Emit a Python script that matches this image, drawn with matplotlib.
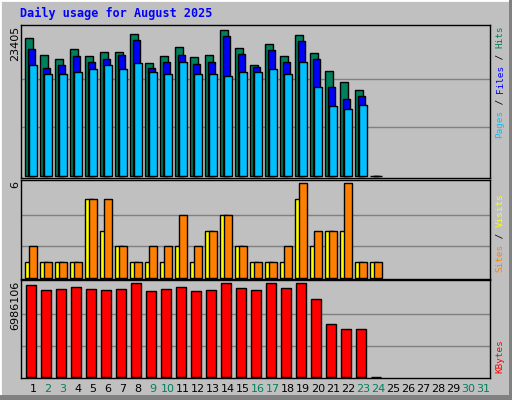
import matplotlib
matplotlib.use("Agg")
import matplotlib.pyplot as plt
import numpy as np

# values
days = list(range(1, 32))
hits_max = 23405
hits = [0.94, 0.83, 0.80, 0.87, 0.82, 0.85, 0.85, 0.97, 0.77, 0.82, 0.885, 0.815,
        0.83, 1.0, 0.875, 0.756, 0.90, 0.82, 0.967, 0.84, 0.72, 0.64, 0.59, 0.0]
files = [0.87, 0.74, 0.76, 0.82, 0.78, 0.80, 0.83, 0.93, 0.74, 0.78, 0.83, 0.765,
         0.78, 0.96, 0.835, 0.745, 0.86, 0.78, 0.92, 0.80, 0.61, 0.53, 0.55, 0.0]
pages = [0.76, 0.70, 0.695, 0.71, 0.73, 0.76, 0.73, 0.77, 0.71, 0.70, 0.78, 0.695,
         0.70, 0.686, 0.71, 0.71, 0.73, 0.695, 0.777, 0.61, 0.48, 0.46, 0.485, 0.0]
hits = [round(v * hits_max) for v in hits]
files = [round(v * hits_max) for v in files]
pages = [round(v * hits_max) for v in pages]

visits = [1, 1, 1, 1, 5, 3, 2, 1, 1, 1, 2, 1, 3, 4, 2, 1, 1, 1, 5, 2, 3, 3, 1, 1]
sites = [2, 1, 1, 1, 5, 5, 2, 1, 2, 2, 4, 2, 3, 4, 2, 1, 1, 2, 6, 3, 3, 6, 1, 1]

kb_max = 6986106
kbytes = [0.985, 0.93, 0.94, 0.963, 0.94, 0.93, 0.94, 1.0, 0.92, 0.94, 0.963, 0.92,
          0.93, 1.0, 0.953, 0.93, 1.0, 0.953, 1.0, 0.83, 0.57, 0.515, 0.515, 0.0]
kbytes = [round(v * kb_max) for v in kbytes]

weekend = {2, 3, 9, 10, 16, 17, 23, 24, 30, 31}

BG = "#C0C0C0"
C_HITS, C_FILES, C_PAGES = "#00805C", "#0000FF", "#00C0FF"
C_VISITS, C_SITES, C_KB = "#FFFF00", "#FF8000", "#FF0000"
W, H = 512, 400

fig = plt.figure(figsize=(W / 100, H / 100), dpi=100, facecolor=BG)
mono = "DejaVu Sans Mono"


def px_axes(x0, y0, x1, y1):
    ax = fig.add_axes([x0 / W, 1 - y1 / H, (x1 - x0) / W, (y1 - y0) / H])
    ax.set_facecolor(BG)
    ax.set_xlim(0.2, 31.47)
    ax.set_xticks([])
    ax.set_yticks([])
    for s in ax.spines.values():
        s.set_color("black")
        s.set_linewidth(1)
    return ax


def grid(ax, top):
    for k in (1, 2):
        ax.axhline(top * k / 3, color="#808080", lw=1, zorder=0)


x = np.array(days[:len(hits)])
bw = 0.49

# hits / files / pages
ax1 = px_axes(21, 25, 490, 178)
ax1.set_ylim(-hits_max * 0.012, hits_max * 1.032)
grid(ax1, hits_max)
ax1.bar(x - 0.27, hits, bw, color=C_HITS, edgecolor="black", lw=1, zorder=2)
ax1.bar(x - 0.11, files, bw, color=C_FILES, edgecolor="black", lw=1, zorder=3)
ax1.bar(x + 0.0, pages, bw, color=C_PAGES, edgecolor="black", lw=1, zorder=4)

# visits / sites
ax2 = px_axes(21, 180, 490, 279)
ax2.set_ylim(-0.06, 6.2)
grid(ax2, 6)
ax2.bar(x - 0.27, visits, bw, color=C_VISITS, edgecolor="black", lw=1, zorder=2)
ax2.bar(x + 0.0, sites, bw, color=C_SITES, edgecolor="black", lw=1, zorder=3)

# kbytes
ax3 = px_axes(21, 280, 490, 378)
ax3.set_ylim(-kb_max * 0.012, kb_max * 1.035)
grid(ax3, kb_max)
ax3.bar(x - 0.11, kbytes, 0.67, color=C_KB, edgecolor="black", lw=1, zorder=2)

# day labels
for d in days:
    fig.text((33 + 15 * (d - 1)) / W, 1 - 389 / H, str(d), ha="center", va="center",
             fontsize=8, color=C_HITS if d in weekend else "black")

# title
fig.text(20 / W, 1 - 13 / H, "Daily usage for August 2025", fontsize=8.5,
         family=mono, weight="bold", color="#0000FF", va="center")

# left max labels
for y, txt in [(26, "23405"), (181, "6"), (281, "6986106")]:
    fig.text(15 / W, 1 - y / H, txt, rotation=90, ha="center", va="top", fontsize=8)

# right multicolour labels, bottom to top
def right_label(y_bottom, parts):
    y = y_bottom
    for txt, col in parts:
        fig.text(500 / W, 1 - y / H, txt, rotation=90, ha="center", va="bottom",
                 fontsize=6.7, family=mono, color=col)
        y -= len(txt) * 5.6

right_label(138, [("Pages", C_PAGES), (" / ", "black"), ("Files", C_FILES),
                  (" / ", "black"), ("Hits", C_HITS)])
right_label(272, [("Sites", C_SITES), (" / ", "black"), ("Visits", C_VISITS)])
right_label(373, [("KBytes", C_KB)])

# 3d-ish outer frame
fig.add_artist(plt.Line2D([0, 0, 1], [0, 1, 1], transform=fig.transFigure, color="white", lw=2))
fig.add_artist(plt.Line2D([0, 1, 1], [0.005, 0.005, 1], transform=fig.transFigure,
                          color="#808080", lw=5))

fig.savefig("out.png", dpi=100, facecolor=BG)
